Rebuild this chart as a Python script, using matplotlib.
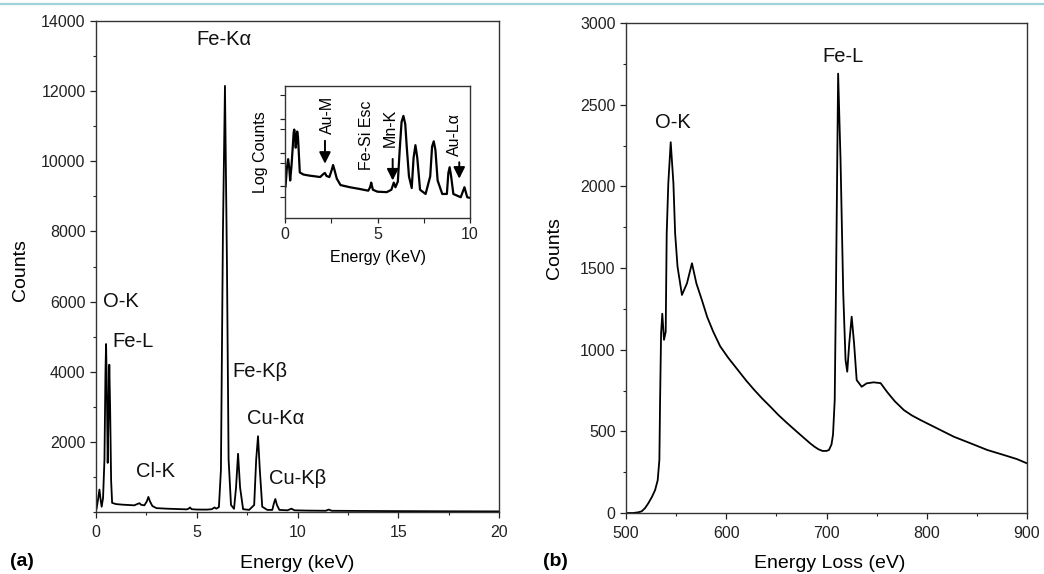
import numpy as np
import matplotlib
matplotlib.use('Agg')
import matplotlib.pyplot as plt
from matplotlib.lines import Line2D
from matplotlib.ticker import MultipleLocator, FixedLocator, NullFormatter

plt.rcParams['font.family'] = ['Liberation Sans', 'DejaVu Sans']

# (a) EDS spectrum
eds_energy = [0.03, 0.1, 0.17, 0.23, 0.28, 0.35, 0.42, 0.47, 0.5, 0.54, 0.58, 0.62,
              0.66, 0.7, 0.75, 0.8, 1.0, 1.3, 1.6, 1.9, 2.08, 2.16, 2.24, 2.4, 2.52,
              2.6, 2.68, 2.8, 3.0, 3.5, 4.0, 4.5, 4.6, 4.66, 4.75, 5.0, 5.5, 5.75,
              5.88, 5.97, 6.1, 6.2, 6.3, 6.4, 6.5, 6.58, 6.7, 6.85, 6.95, 7.05, 7.15,
              7.3, 7.6, 7.85, 7.95, 8.04, 8.13, 8.25, 8.5, 8.75, 8.83, 8.9, 8.98, 9.1,
              9.5, 9.7, 9.85, 10.5, 11.4, 11.55, 11.7, 13.0, 15.0, 17.5, 20.0]
eds_counts = [100, 350, 640, 350, 150, 400, 1500, 4000, 4790, 3500, 1400, 2800,
              4200, 3000, 900, 260, 225, 210, 200, 190, 235, 250, 205, 190, 300,
              430, 300, 170, 110, 95, 85, 75, 95, 130, 80, 70, 68, 80,
              130, 95, 140, 1200, 8000, 12150, 7000, 1500, 200, 90, 700, 1660, 700,
              80, 60, 200, 1500, 2160, 1200, 150, 60, 60, 250, 370, 200, 60,
              48, 95, 48, 40, 35, 70, 35, 30, 25, 20, 17]

eds_peaks = ['Fe-K\u03b1', 'O-K', 'Fe-L', 'Fe-K\u03b2', 'Cu-K\u03b1', 'Cl-K', 'Cu-K\u03b2']
eds_peak_x = [6.35, 0.35, 0.8, 6.77, 7.5, 1.99, 8.58]
eds_peak_y = [13460, 6015, 4860, 4000, 2680, 1150, 960]

# inset labels (energy, text height, arrow tail, arrow tip)
inset_marks = ['Au-M', 'Fe-Si Esc', 'Mn-K', 'Au-L\u03b1']
inset_text_x = [2.3, 4.41, 5.71, 9.15]
inset_text_y = [12900, 3300, 5500, 3470]
inset_arrow_x = [2.16, None, 5.82, 9.42]
inset_arrow_tail = [2240, None, 650, 520]
inset_arrow_tip = [470, None, 150, 170]

# (b) EELS spectrum
eels_loss = [500, 507, 512, 515.6, 519, 522.3, 526, 529, 531.6, 533.3, 534, 535,
             536.2, 537.9, 539.6, 540.6, 542.2, 544.6, 547.3, 549, 551.4, 555.8,
             560.8, 565.8, 570.2, 575.9, 581, 587, 594, 602, 611, 620, 628, 636,
             644, 652, 661, 670, 678, 684, 688, 692, 696, 700, 702.5, 705,
             706.5, 708.2, 709.5, 711.6, 714, 716.7, 719, 720.7, 722.7, 725.1,
             727.5, 730.1, 735.1, 740.1, 747, 754, 760.6, 768, 777.2, 785, 793.8,
             810.4, 827, 843.6, 860.3, 876.9, 890, 900]
eels_counts = [0, 0, 4, 10, 30, 60, 100, 140, 200, 325, 690, 1100,
               1220, 1060, 1110, 1712, 2018, 2270, 2018, 1712, 1508, 1335,
               1406, 1529, 1406, 1300, 1200, 1110, 1020, 950, 880, 810, 753, 700,
               651, 600, 549, 500, 457, 425, 406, 390, 380, 380, 386, 420,
               480, 692, 1400, 2690, 2161, 1345, 937, 865, 1039, 1202,
               1039, 814, 773, 794, 800, 795, 740, 685, 630, 598, 569,
               518, 467, 427, 386, 355, 330, 304]

eels_peaks = ['O-K', 'Fe-L']
eels_peak_x = [546.9, 716.8]
eels_peak_y = [2390, 2794]

W, H = 1044, 574
fig = plt.figure(figsize=(W / 100, H / 100), dpi=100)
tick_col = '#222222'


def style(ax, lsize=11.5):
    for s in ax.spines.values():
        s.set_linewidth(1.0)
        s.set_color('#333333')
    ax.tick_params(which='major', direction='out', length=4.5, width=0.9, pad=3,
                   labelsize=lsize, colors=tick_col, top=False, right=False)
    ax.tick_params(which='minor', direction='out', length=2.5, width=0.8,
                   colors=tick_col, top=False, right=False)


# panel (a)
ax_a = fig.add_axes([96 / W, 1 - 512 / H, 403 / W, 491 / H])
ax_a.plot(eds_energy, eds_counts, color='black', lw=1.3)
ax_a.set_xlim(0, 20)
ax_a.set_ylim(0, 14000)
ax_a.xaxis.set_major_locator(MultipleLocator(5))
ax_a.xaxis.set_minor_locator(MultipleLocator(2.5))
ax_a.yaxis.set_major_locator(FixedLocator([2000, 4000, 6000, 8000, 10000, 12000, 14000]))
ax_a.yaxis.set_minor_locator(MultipleLocator(1000))
style(ax_a)
ax_a.tick_params(axis='x', pad=5)
for name, x, y in zip(eds_peaks, eds_peak_x, eds_peak_y):
    ha = 'center' if name == 'Fe-K\u03b1' else 'left'
    ax_a.text(x, y, name, ha=ha, va='center', fontsize=14.5, color='#111111')

# inset
ax_in = fig.add_axes([285 / W, 1 - 218 / H, 185 / W, 132 / H])
ax_in.plot(eds_energy, eds_counts, color='black', lw=1.6)
ax_in.set_yscale('log')
ax_in.set_xlim(0, 10)
ax_in.set_ylim(11.7, 93000)
ax_in.xaxis.set_major_locator(MultipleLocator(5))
ax_in.xaxis.set_minor_locator(MultipleLocator(2.5))
ax_in.yaxis.set_major_locator(FixedLocator([100, 1000, 10000]))
ax_in.yaxis.set_minor_locator(FixedLocator([50, 500, 5000, 50000]))
ax_in.yaxis.set_major_formatter(NullFormatter())
ax_in.yaxis.set_minor_formatter(NullFormatter())
style(ax_in, lsize=11.5)
ax_in.tick_params(which='major', length=3.5)
ax_in.tick_params(which='minor', length=3.5)
ax_in.set_ylabel('Log Counts', fontsize=11.5, labelpad=5)
ax_in.set_xlabel('Energy (KeV)', fontsize=11.5, labelpad=6)
for name, tx, ty, ax_x, tail, tip in zip(inset_marks, inset_text_x, inset_text_y,
                                         inset_arrow_x, inset_arrow_tail, inset_arrow_tip):
    ax_in.text(tx, ty, name, rotation=90, ha='center', va='center', fontsize=11.5)
    if ax_x is not None:
        ax_in.annotate('', xy=(ax_x, tip), xytext=(ax_x, tail),
                       arrowprops=dict(arrowstyle='-|>', color='black', lw=1.4,
                                       mutation_scale=17, shrinkA=0, shrinkB=0))

# panel (b)
ax_b = fig.add_axes([626 / W, 1 - 513 / H, 401 / W, 490 / H])
ax_b.plot(eels_loss, eels_counts, color='black', lw=1.3)
ax_b.set_xlim(500, 900)
ax_b.set_ylim(0, 3000)
ax_b.xaxis.set_major_locator(MultipleLocator(100))
ax_b.xaxis.set_minor_locator(MultipleLocator(50))
ax_b.yaxis.set_major_locator(MultipleLocator(500))
ax_b.yaxis.set_minor_locator(MultipleLocator(250))
style(ax_b)
ax_b.tick_params(axis='x', pad=5)
for name, x, y in zip(eels_peaks, eels_peak_x, eels_peak_y):
    ax_b.text(x, y, name, ha='center', va='center', fontsize=14.5, color='#111111')

# labels placed in figure pixels
fig.text(20 / W, 1 - 270 / H, 'Counts', rotation=90, ha='center', va='center', fontsize=14)
fig.text(554 / W, 1 - 248 / H, 'Counts', rotation=90, ha='center', va='center', fontsize=14)
fig.text(297 / W, 1 - 563 / H, 'Energy (keV)', ha='center', va='center', fontsize=14)
fig.text(830 / W, 1 - 563 / H, 'Energy Loss (eV)', ha='center', va='center', fontsize=14)
fig.text(10 / W, 1 - 561 / H, '(a)', ha='left', va='center', fontsize=14, fontweight='bold')
fig.text(543 / W, 1 - 561 / H, '(b)', ha='left', va='center', fontsize=14, fontweight='bold')

# thin rule along the top edge
fig.add_artist(Line2D([0, 1], [1 - 4 / H, 1 - 4 / H], transform=fig.transFigure,
                      color='#9dd3d8', lw=1.6))

fig.savefig('out.png', dpi=100)
